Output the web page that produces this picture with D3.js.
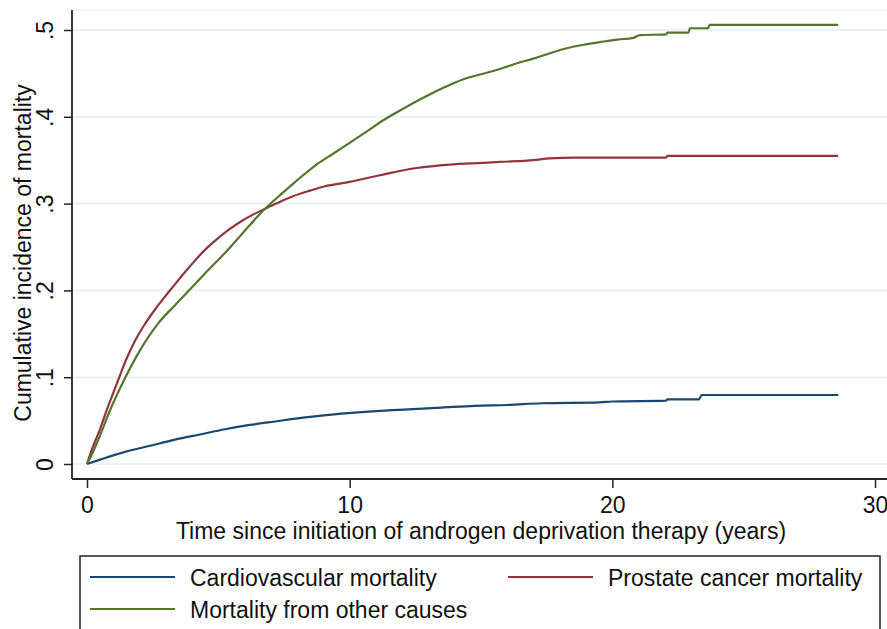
<!DOCTYPE html>
<html lang="en">
<head>
<meta charset="UTF-8">
<title>Cumulative incidence of mortality</title>
<script src="https://d3js.org/d3.v7.min.js"></script>
<style>
  body { margin: 0; background: #fff; }
  svg text { font-family: "Liberation Sans", Arial, sans-serif; fill: #111; }
</style>
</head>
<body>
<svg id="chart" width="887" height="629"></svg>
<script>
// values: [years, cumulative incidence]
const cardiovascular = [[0,0],[0.5,0.005],[1.45,0.014],[2.4,0.021],[3.35,0.028],[4.3,0.034],[5.25,0.040],[6.2,0.045],
  [7.16,0.049],[8.4,0.054],[9.69,0.058],[11.0,0.061],[12.23,0.063],[13.5,0.065],[14.77,0.067],[16.0,0.068],[17.3,0.070],
  [19.5,0.071],[20.0,0.072],[22.05,0.073],[22.1,0.0745],[23.3,0.0745],[23.4,0.0795],[28.6,0.0795]];
const prostate = [[0,0],[0.2,0.018],[0.43,0.035],[0.8,0.066],[1.19,0.097],[1.5,0.121],[1.83,0.142],[2.2,0.161],[2.59,0.178],
  [3.0,0.194],[3.35,0.207],[3.7,0.220],[4.1,0.234],[4.5,0.247],[4.87,0.257],[5.4,0.270],[5.89,0.280],[6.3,0.287],
  [6.71,0.293],[7.2,0.300],[7.79,0.308],[8.49,0.315],[9.06,0.320],[10.0,0.325],[11.2,0.333],[12.55,0.341],[13.8,0.345],
  [15.09,0.347],[15.72,0.348],[17.0,0.350],[17.6,0.352],[18.6,0.353],[22.05,0.353],[22.1,0.355],[28.6,0.355]];
const otherCauses = [[0,0],[0.2,0.012],[0.5,0.033],[0.81,0.057],[1.45,0.099],[2.0,0.130],[2.71,0.162],[3.35,0.183],
  [3.98,0.203],[4.6,0.223],[5.25,0.243],[5.9,0.265],[6.71,0.292],[7.47,0.313],[8.04,0.328],[8.74,0.345],[9.4,0.358],
  [10.0,0.370],[10.6,0.382],[11.28,0.396],[11.9,0.407],[12.55,0.418],[13.2,0.428],[13.82,0.437],[14.5,0.445],
  [15.0,0.449],[15.72,0.455],[16.4,0.462],[16.99,0.467],[17.6,0.473],[18.26,0.479],[18.9,0.483],[19.53,0.486],
  [20.2,0.489],[20.8,0.491],[21.05,0.494],[22.05,0.495],[22.1,0.497],[22.9,0.497],[22.95,0.502],[23.65,0.502],
  [23.7,0.506],[28.6,0.506]];

const xTicks = [0, 10, 20, 30];
const yTicks = [0, 0.1, 0.2, 0.3, 0.4, 0.5];
const seriesNames = ["Cardiovascular mortality", "Prostate cancer mortality", "Mortality from other causes"];
const colors = ["#1a476f", "#90353b", "#55752f"];

const svg = d3.select("#chart");
const x = d3.scaleLinear().domain([0, 30]).range([87, 875]);
const y = d3.scaleLinear().domain([0, 0.5]).range([464, 30]);
const plotLeft = 72, plotBottom = 479, plotTop = 10, plotRight = 887;
const fontSize = "23px";

// grid lines
svg.append("g").selectAll("line")
  .data(yTicks)
  .join("line")
  .attr("x1", plotLeft).attr("x2", plotRight)
  .attr("y1", d => y(d)).attr("y2", d => y(d))
  .attr("stroke", "#e6efef").attr("stroke-width", 1.5);
svg.append("line").attr("x1", plotLeft).attr("x2", plotRight).attr("y1", plotTop).attr("y2", plotTop)
  .attr("stroke", "#eef4f4").attr("stroke-width", 1);

// curves
const line = d3.line().curve(d3.curveMonotoneX).x(d => x(d[0])).y(d => y(d[1]));
[cardiovascular, prostate, otherCauses].forEach((s, i) => {
  svg.append("path").datum(s).attr("d", line)
    .attr("fill", "none").attr("stroke", colors[i]).attr("stroke-width", 2.2)
    .attr("stroke-linejoin", "round");
});

// axes
const xAxis = svg.append("g").attr("transform", `translate(0,${plotBottom})`)
  .call(d3.axisBottom(x).tickValues(xTicks).tickSize(9).tickFormat(d3.format("d")));
xAxis.select(".domain").remove();
xAxis.selectAll(".tick line").attr("stroke", "#222").attr("stroke-width", 1.5);
xAxis.selectAll(".tick text").attr("y", 34).attr("dy", 0).style("font-size", fontSize).attr("fill", "#111");

const yAxis = svg.append("g").attr("transform", `translate(${plotLeft},0)`)
  .call(d3.axisLeft(y).tickValues(yTicks).tickSize(8).tickFormat(d => d === 0 ? "0" : "." + Math.round(d * 10)));
yAxis.select(".domain").remove();
yAxis.selectAll(".tick line").attr("stroke", "#222").attr("stroke-width", 1.5);
yAxis.selectAll(".tick text")
  .attr("transform", "rotate(-90)").attr("x", 0).attr("y", -19).attr("dy", 0)
  .attr("text-anchor", "middle").style("font-size", fontSize).attr("fill", "#111");

svg.append("line").attr("x1", plotLeft).attr("x2", plotRight).attr("y1", plotBottom).attr("y2", plotBottom)
  .attr("stroke", "#222").attr("stroke-width", 1.8);
svg.append("line").attr("x1", plotLeft).attr("x2", plotLeft).attr("y1", plotTop).attr("y2", plotBottom)
  .attr("stroke", "#222").attr("stroke-width", 1.8);

// axis titles
svg.append("text").attr("x", 481).attr("y", 539).attr("text-anchor", "middle")
  .style("font-size", fontSize).text("Time since initiation of androgen deprivation therapy (years)");
svg.append("text").attr("transform", "translate(31,253) rotate(-90)").attr("text-anchor", "middle")
  .style("font-size", fontSize).text("Cumulative incidence of mortality");

// legend
svg.append("rect").attr("x", 80).attr("y", 556).attr("width", 800).attr("height", 100)
  .attr("fill", "#fff").attr("stroke", "#222").attr("stroke-width", 1.5);
const legendPos = [[90, 577], [508, 577], [90, 609]];
seriesNames.forEach((name, i) => {
  const [lx, ly] = legendPos[i];
  svg.append("line").attr("x1", lx).attr("x2", lx + 85).attr("y1", ly).attr("y2", ly)
    .attr("stroke", colors[i]).attr("stroke-width", 2);
  svg.append("text").attr("x", lx + 100).attr("y", ly + 9)
    .style("font-size", fontSize).text(name);
});
</script>
</body>
</html>
